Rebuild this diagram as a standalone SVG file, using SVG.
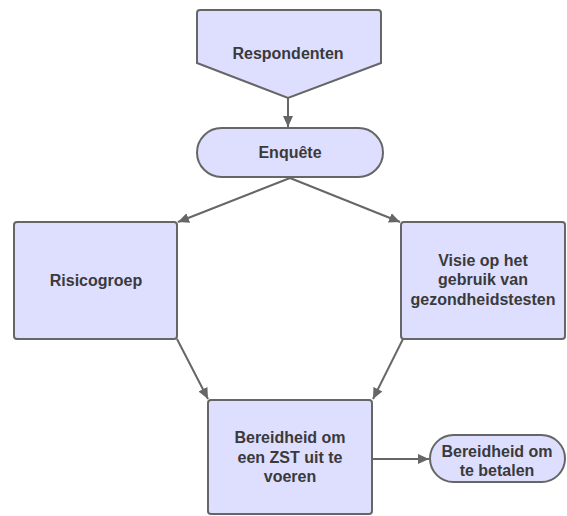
<svg xmlns="http://www.w3.org/2000/svg" width="567" height="516" viewBox="0 0 567 516">
<defs>
<style>
.n{fill:#dedeff;stroke:#666666;stroke-width:2}
.t{font-family:"Liberation Sans",Arial,sans-serif;font-weight:bold;font-size:16px;fill:#3a3a3a;text-anchor:middle}
.c{stroke:#666666;stroke-width:2;fill:none;marker-end:url(#a)}
</style>
<marker id="a" markerUnits="userSpaceOnUse" markerWidth="12" markerHeight="12" refX="11" refY="6" orient="auto">
<path d="M0,1 L11,6 L0,11 z" fill="#666666"/>
</marker>
</defs>
<rect width="567" height="516" fill="#ffffff"/>
<g id="connectors">
<line class="c" x1="288" y1="98" x2="288" y2="127"/>
<line class="c" x1="290" y1="178" x2="178" y2="222"/>
<line class="c" x1="290" y1="178" x2="400" y2="222"/>
<line class="c" x1="177" y1="339" x2="208" y2="399"/>
<line class="c" x1="403" y1="339" x2="373" y2="399"/>
<line class="c" x1="373" y1="459" x2="429" y2="459"/>
</g>
<g id="respondenten">
<path class="n" d="M200,10 L378,10 Q381,10 381,13 L381,63 L288,98 L197,63 L197,13 Q197,10 200,10 Z"/>
<text class="t" x="288" y="59">Respondenten</text>
</g>
<g id="enquete">
<rect class="n" x="197" y="128" width="186" height="49" rx="24.5"/>
<text class="t" x="290" y="158">Enquête</text>
</g>
<g id="risicogroep">
<rect class="n" x="14" y="222" width="163" height="117" rx="3"/>
<text class="t" x="96" y="286">Risicogroep</text>
</g>
<g id="visie">
<rect class="n" x="401" y="222" width="164" height="117" rx="3"/>
<text class="t" x="483" y="266">Visie op het</text>
<text class="t" x="483" y="285">gebruik van</text>
<text class="t" x="483" y="305">gezondheidstesten</text>
</g>
<g id="bereidheid-zst">
<rect class="n" x="208" y="400" width="164" height="114" rx="3"/>
<text class="t" x="290" y="443">Bereidheid om</text>
<text class="t" x="290" y="463">een ZST uit te</text>
<text class="t" x="290" y="482">voeren</text>
</g>
<g id="bereidheid-betalen">
<rect class="n" x="430" y="435" width="135" height="47" rx="23.5"/>
<text class="t" x="497" y="457">Bereidheid om</text>
<text class="t" x="497" y="476">te betalen</text>
</g>
</svg>
